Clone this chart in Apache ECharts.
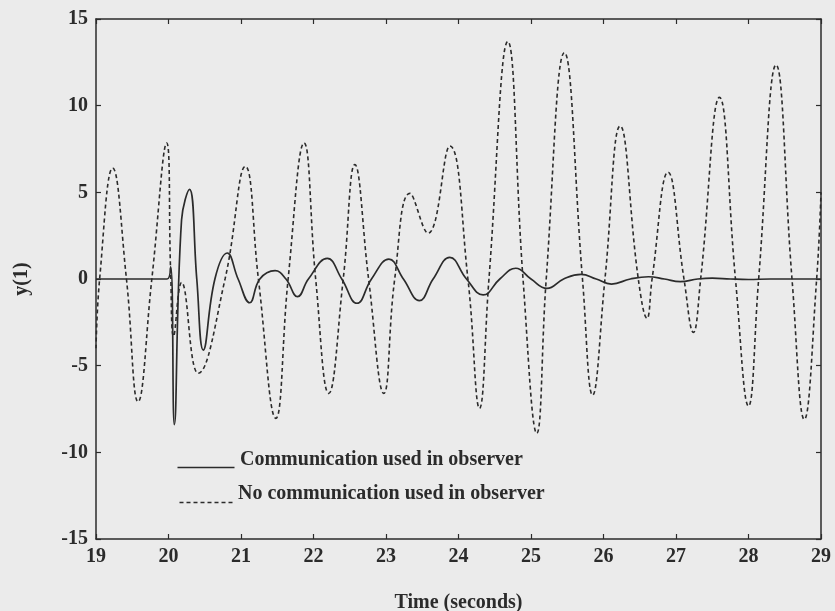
<!DOCTYPE html>
<html>
<head>
<meta charset="utf-8">
<script src="https://cdn.jsdelivr.net/npm/echarts@6/dist/echarts.min.js"></script>
<style>
    html, body { margin: 0; padding: 0; background: #ebebeb; }
    #chart { width: 835px; height: 611px; }
</style>
</head>
<body>
<div id="chart"></div>
<script>
    // time (s) and y(1), communication used in observer
    var commTime = [19, 19.98, 20.03, 20.08, 20.18, 20.29, 20.39, 20.48, 20.64, 20.81, 20.96, 21.12, 21.26, 21.47, 21.62,
        21.78, 21.93, 22.19, 22.39, 22.6, 22.8, 23.04, 23.24, 23.46, 23.65, 23.88, 24.11, 24.34, 24.57, 24.79, 25.0,
        25.22, 25.45, 25.69, 25.9, 26.11, 26.37, 26.62, 26.84, 27.06, 27.3, 27.5, 27.75, 28.0, 28.3, 29];
    var commY = [0, 0, 0.7, -8.4, 3.4, 5.17, 0, -4.1, 0, 1.5, 0, -1.37, 0, 0.48, 0,
        -1.02, 0, 1.19, 0, -1.4, 0, 1.15, 0, -1.25, 0, 1.25, 0, -0.92, 0, 0.62, 0,
        -0.54, 0, 0.27, 0, -0.29, 0, 0.13, 0, -0.15, 0, 0.05, 0, -0.03, 0, 0];

    // no communication used in observer
    var noCommTime = [19, 19.05, 19.23, 19.42, 19.58, 19.77, 19.975, 20.03, 20.07, 20.18, 20.41, 20.78, 21.06, 21.24,
        21.48, 21.65, 21.87, 22.03, 22.21, 22.41, 22.57, 22.76, 22.97, 23.12, 23.33, 23.58, 23.88, 24.13, 24.29, 24.42,
        24.68, 24.89, 25.08, 25.21, 25.46, 25.71, 25.85, 26.02, 26.23, 26.48, 26.6, 26.67, 26.89, 27.11, 27.24, 27.34,
        27.6, 27.82, 28.0, 28.14, 28.38, 28.6, 28.77, 28.94, 29];
    var noCommY = [-4, 0, 6.4, 0, -7.08, 0, 7.85, 0.35, -3.3, -0.2, -5.44, 0, 6.5, 0,
        -8.04, 0, 7.85, 0, -6.6, 0, 6.6, 0, -6.6, 0, 4.94, 2.64, 7.67, 0, -7.46, 0,
        13.7, 0, -8.9, 0, 13.06, 0, -6.7, 0, 8.83, 0, -2.27, 0, 6.16, 0, -3.08, 0,
        10.48, 0, -7.33, 0, 12.35, 0, -8.1, 0, 5.0];

    var xTicks = [19, 20, 21, 22, 23, 24, 25, 26, 27, 28, 29];
    var yTicks = [-15, -10, -5, 0, 5, 10, 15];
    var seriesNames = ['Communication used in observer', 'No communication used in observer'];

    function zip(xs, ys) {
        var out = [];
        for (var i = 0; i < xs.length; i++) {
            out.push([xs[i], ys[i]]);
        }
        return out;
    }

    var ink = '#2b2b2b';
    var serif = '"Liberation Serif", "DejaVu Serif", serif';

    var chart = echarts.init(document.getElementById('chart'), null, {renderer: 'canvas'});

    var frameAxis = {
        axisLine: {show: true, onZero: false, lineStyle: {color: ink, width: 1.5}},
        axisTick: {show: true, inside: true, length: 5, lineStyle: {color: ink, width: 1.2}},
        splitLine: {show: false}
    };

    var option = {
        backgroundColor: '#ebebeb',
        animation: false,
        grid: {left: 96, right: 14, top: 19, bottom: 72, containLabel: false, outerBoundsMode: 'none'},
        legend: {show: false},
        xAxis: [
            echarts.util.merge({
                type: 'value',
                min: xTicks[0],
                max: xTicks[xTicks.length - 1],
                interval: 1,
                position: 'bottom',
                name: 'Time (seconds)',
                nameLocation: 'middle',
                nameGap: 54,
                nameTextStyle: {color: ink, fontFamily: serif, fontSize: 20, fontWeight: 'bold'},
                axisLabel: {color: ink, fontFamily: serif, fontSize: 20, fontWeight: 'bold', margin: 8}
            }, frameAxis),
            echarts.util.merge({
                type: 'value',
                min: xTicks[0],
                max: xTicks[xTicks.length - 1],
                interval: 1,
                position: 'top',
                axisLabel: {show: false}
            }, frameAxis)
        ],
        yAxis: [
            echarts.util.merge({
                type: 'value',
                min: yTicks[0],
                max: yTicks[yTicks.length - 1],
                interval: 5,
                position: 'left',
                name: 'y(1)',
                nameLocation: 'middle',
                nameGap: 64,
                nameTextStyle: {color: ink, fontFamily: serif, fontSize: 20, fontWeight: 'bold'},
                axisLabel: {color: ink, fontFamily: serif, fontSize: 20, fontWeight: 'bold', margin: 8}
            }, frameAxis),
            echarts.util.merge({
                type: 'value',
                min: yTicks[0],
                max: yTicks[yTicks.length - 1],
                interval: 5,
                position: 'right',
                axisLabel: {show: false}
            }, frameAxis)
        ],
        series: [{
            name: seriesNames[0],
            type: 'line',
            data: zip(commTime, commY),
            smooth: 0.45,
            showSymbol: false,
            lineStyle: {color: ink, width: 1.7, type: 'solid'},
            z: 3
        }, {
            name: seriesNames[1],
            type: 'line',
            data: zip(noCommTime, noCommY),
            smooth: 0.45,
            showSymbol: false,
            lineStyle: {color: ink, width: 1.6, type: [4, 3]},
            z: 2
        }],
        graphic: [
            {type: 'line', left: 175, top: 465, shape: {x1: 0, y1: 0, x2: 57, y2: 0}, style: {stroke: ink, lineWidth: 1.7}},
            {type: 'text', left: 240, top: 450, style: {text: seriesNames[0], fill: ink, font: 'bold 20px ' + serif}},
            {type: 'line', left: 177, top: 500, shape: {x1: 0, y1: 0, x2: 54, y2: 0}, style: {stroke: ink, lineWidth: 1.6, lineDash: [4, 3]}},
            {type: 'text', left: 238, top: 484, style: {text: seriesNames[1], fill: ink, font: 'bold 20px ' + serif}}
        ]
    };

    chart.setOption(option);
</script>
</body>
</html>
